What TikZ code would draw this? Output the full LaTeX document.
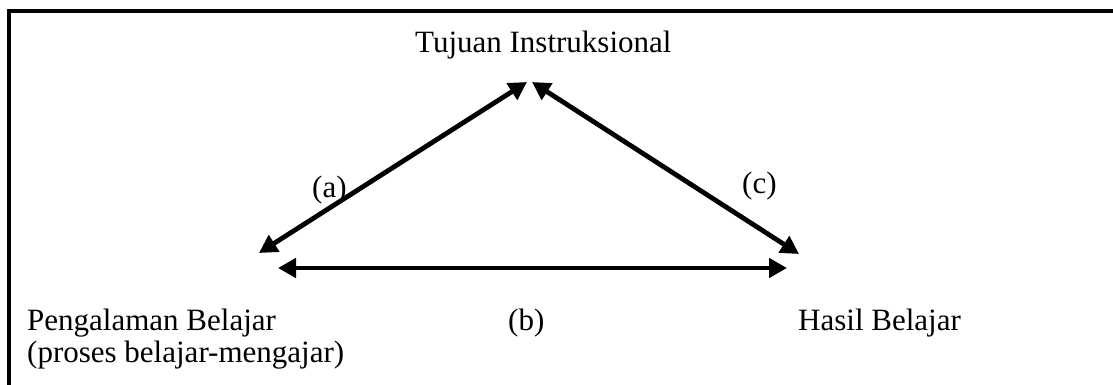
\documentclass[tikz,border=0pt]{standalone}
\usepackage{fontspec}
\setmainfont{Liberation Serif}
\usetikzlibrary{arrows.meta,positioning}
\tikzset{
  label/.style={
    anchor=base west,
    inner sep=0pt,
    font=\fontsize{31}{36}\selectfont
  },
  relline/.style={
    {Triangle[length=18pt,width=19pt]}-{Triangle[length=18pt,width=19pt]},
    line width=4.8pt
  },
  framebar/.style={line width=4pt}
}
\begin{document}
\begin{tikzpicture}[x=1pt,y=-1pt]
  \useasboundingbox (0,0) rectangle (1113,385);
  \coordinate (frameR) at (1113,11.3);
  \coordinate (frameC) at (9.3,11.3);
  \coordinate (frameB) at (9.3,385);
  \draw[framebar] (frameR) -- (frameC) -- (frameB);
  \node[label] (tujuan) at (415,53) {Tujuan Instruksional};
  \node[label] (pengalaman) at (27,330) {Pengalaman Belajar};
  \node[label] (proses) at (27,362) {(proses belajar-mengajar)};
  \node[label] (hasil) at (798,330) {Hasil Belajar};
  \node[label] (labb) at (508,330) {(b)};
  \node[label] (laba) at (312,197) {(a)};
  \node[label] (labc) at (742,193) {(c)};
  \coordinate (topL) at (527,82);
  \coordinate (topR) at (532,82);
  \coordinate (leftT) at (259,253);
  \coordinate (leftB) at (278,268);
  \coordinate (rightT) at (799,254);
  \coordinate (rightB) at (787,268);
  \draw[relline] (leftT) -- (topL);
  \draw[relline] (topR) -- (rightT);
  \draw[relline] (leftB) -- (rightB);
\end{tikzpicture}
\end{document}
